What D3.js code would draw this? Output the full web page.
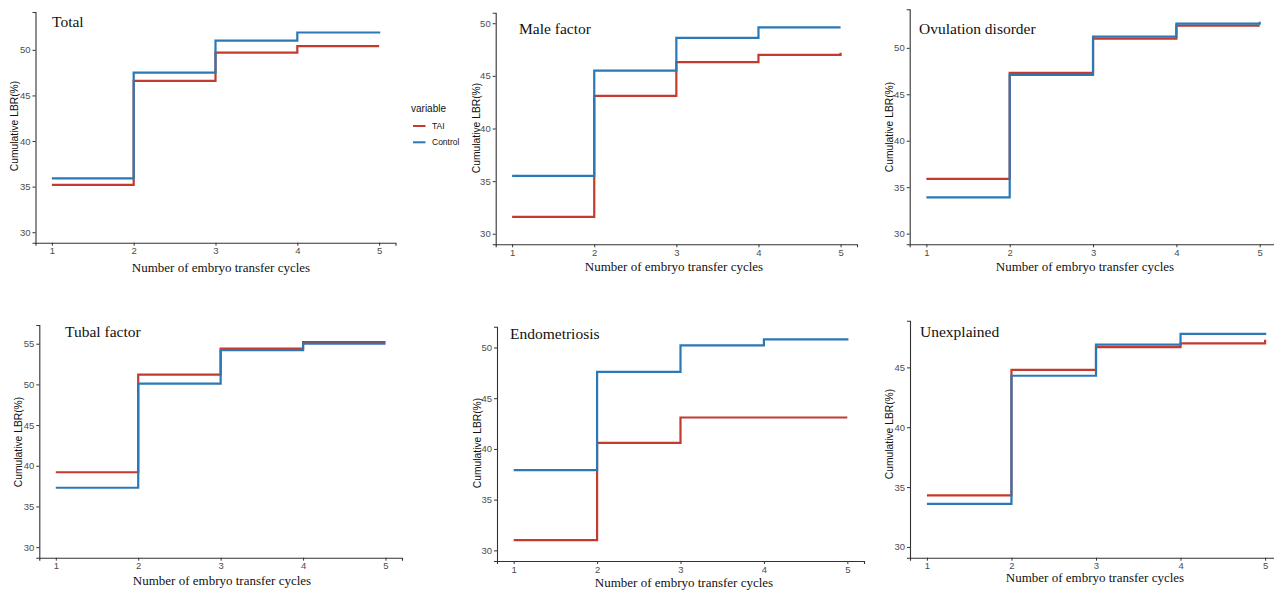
<!DOCTYPE html>
<html>
<head>
<meta charset="utf-8">
<script src="https://cdn.jsdelivr.net/npm/d3@7"></script>
<style>
  body { margin: 0; background: #fff; }
</style>
</head>
<body>
<div id="plot"></div>
<script>
const width = 1274
const height = 591

// data
const cycles = [1, 2, 3, 4, 5]
const panelNames = ['Total', 'Male factor', 'Ovulation disorder', 'Tubal factor', 'Endometriosis', 'Unexplained']
const taiValues = [
    [35.2, 46.6, 49.7, 50.4, 50.4],
    [31.6, 43.1, 46.3, 47.0, 47.2],
    [35.9, 47.3, 51.0, 52.4, 52.4],
    [39.2, 51.2, 54.4, 55.2, 55.2],
    [31.0, 40.6, 43.1, 43.1, 43.1],
    [34.3, 44.8, 46.7, 47.0, 47.3]
]
const controlValues = [
    [35.9, 47.5, 51.0, 51.9, 52.0],
    [35.5, 45.5, 48.6, 49.6, 49.6],
    [33.9, 47.1, 51.2, 52.6, 52.8],
    [37.3, 50.1, 54.2, 55.0, 55.0],
    [37.9, 47.6, 50.2, 50.8, 50.9],
    [33.6, 44.3, 46.9, 47.8, 47.9]
]
const yLimits = [[30, 53], [30, 50], [30, 53], [30, 56], [30, 51], [30, 48]]
const yTicks = [
    [30, 35, 40, 45, 50],
    [30, 35, 40, 45, 50],
    [30, 35, 40, 45, 50],
    [30, 35, 40, 45, 50, 55],
    [30, 35, 40, 45, 50],
    [30, 35, 40, 45]
]
const seriesNames = ['TAI', 'Control']
const seriesColors = ['#c23b2c', '#2b78b7']

// panel boxes (left, right, top, bottom) and text anchors
const layout = [
    {l: 35.5, r: 395.5, t: 12, b: 242.7, title: [52, 27], ylab: [14, 126], xlab: [221, 272]},
    {l: 495.7, r: 857, t: 12.7, b: 244.3, title: [519, 34], ylab: [476, 128], xlab: [674, 271]},
    {l: 909.7, r: 1276.4, t: 9.3, b: 244.3, title: [919, 34], ylab: [889, 127], xlab: [1085, 271]},
    {l: 39.3, r: 402, t: 325, b: 557.7, title: [65, 337], ylab: [18, 442], xlab: [222, 585]},
    {l: 497, r: 864, t: 326.7, b: 561, title: [510, 339], ylab: [477, 443], xlab: [684, 587]},
    {l: 910, r: 1282, t: 320.7, b: 557.7, title: [920, 337], ylab: [889, 434], xlab: [1095, 582]}
]

const svg = d3.select('div#plot').append('svg')
    .attr('width', width)
    .attr('height', height)
    .attr('viewBox', [0, 0, width, height])
    .style('font-family', '"Liberation Sans", Arial, sans-serif')

// ggplot-style 5% expansion
const expand = (lim) => {
    const pad = (lim[1] - lim[0]) * 0.05
    return [lim[0] - pad, lim[1] + pad]
}

function drawPanel(i) {
    const box = layout[i]

    const x = d3.scaleLinear()
        .domain(expand([1, 5]))
        .range([box.l, box.r])
    const y = d3.scaleLinear()
        .domain(expand(yLimits[i]))
        .range([box.b, box.t])

    const styleAxis = g => {
        g.select('.domain').attr('stroke', '#333').attr('stroke-width', 1.1)
        g.selectAll('.tick line').attr('stroke', '#333')
        g.selectAll('.tick text')
            .attr('fill', '#4d4d4d')
            .attr('font-size', '9.5px')
            .attr('font-family', '"Liberation Sans", Arial, sans-serif')
    }

    svg.append('g')
        .attr('transform', 'translate(0,' + box.b + ')')
        .call(d3.axisBottom(x).tickValues(cycles).tickFormat(d3.format('d')).tickSizeOuter(0).tickSize(3).tickPadding(2))
        .call(styleAxis)

    svg.append('g')
        .attr('transform', 'translate(' + box.l + ',0)')
        .call(d3.axisLeft(y).tickValues(yTicks[i]).tickSizeOuter(0).tickSize(3).tickPadding(2))
        .call(styleAxis)

    const line = d3.line()
        .x((d, j) => x(cycles[j]))
        .y(d => y(d))
        .curve(d3.curveStepAfter)

    ;[taiValues[i], controlValues[i]].forEach((vals, s) => {
        svg.append('path')
            .datum(vals)
            .attr('d', line)
            .attr('fill', 'none')
            .attr('stroke', seriesColors[s])
            .attr('stroke-width', 2.2)
    })

    // panel title
    svg.append('text')
        .attr('x', box.title[0])
        .attr('y', box.title[1])
        .attr('font-family', '"Liberation Serif", "Times New Roman", serif')
        .attr('font-size', '15.5px')
        .attr('fill', '#111')
        .text(panelNames[i])

    // axis titles
    svg.append('text')
        .attr('x', box.xlab[0])
        .attr('y', box.xlab[1])
        .attr('text-anchor', 'middle')
        .attr('font-family', '"Liberation Serif", "Times New Roman", serif')
        .attr('font-size', '13px')
        .attr('fill', '#111')
        .text('Number of embryo transfer cycles')

    svg.append('text')
        .attr('transform', 'translate(' + box.ylab[0] + ',' + box.ylab[1] + ') rotate(-90)')
        .attr('text-anchor', 'middle')
        .attr('dominant-baseline', 'central')
        .attr('font-size', '10.3px')
        .attr('fill', '#111')
        .text('Cumulative LBR(%)')
}

function drawLegend() {
    const g = svg.append('g').attr('transform', 'translate(411,0)')
    g.append('text')
        .attr('x', 0)
        .attr('y', 112)
        .attr('font-size', '10px')
        .attr('fill', '#111')
        .text('variable')

    seriesNames.forEach((name, s) => {
        const yy = 126 + s * 16.3
        g.append('line')
            .attr('x1', 2)
            .attr('x2', 14.5)
            .attr('y1', yy)
            .attr('y2', yy)
            .attr('stroke', seriesColors[s])
            .attr('stroke-width', 2)
        g.append('text')
            .attr('x', 21)
            .attr('y', yy)
            .attr('dominant-baseline', 'central')
            .attr('font-size', '8.5px')
            .attr('fill', '#111')
            .text(name)
    })
}

panelNames.forEach((d, i) => drawPanel(i))
drawLegend()
</script>
</body>
</html>
